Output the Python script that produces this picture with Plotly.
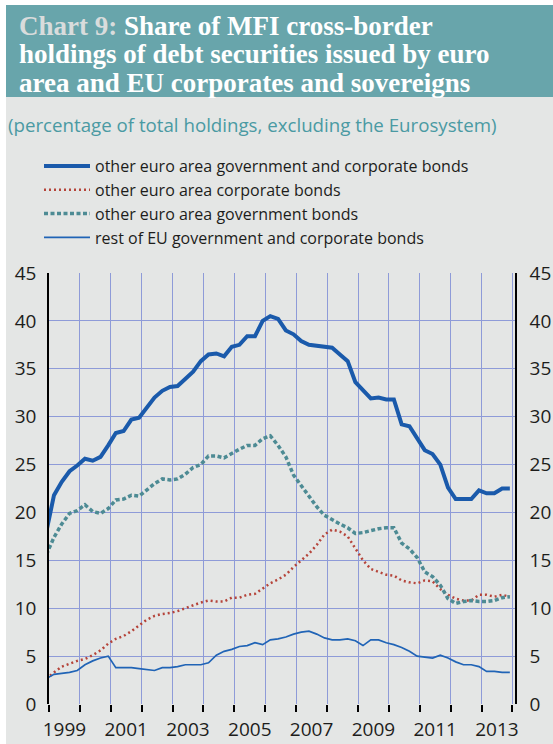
import pandas as pd
import plotly.graph_objects as go

# quarterly observations, Dec 1998 (clipped at the axis) to Dec 2013
quarters = pd.date_range("1998-12-01", "2013-12-01", freq="3MS")

euro_area_total = [
    18.0, 21.8, 23.2, 24.3, 24.9, 25.6, 25.4, 25.8, 27.0, 28.3,
    28.5, 29.7, 29.9, 31.0, 32.0, 32.7, 33.1, 33.2, 34.0, 34.7,
    35.8, 36.5, 36.6, 36.3, 37.3, 37.5, 38.4, 38.4, 40.0, 40.5,
    40.2, 39.0, 38.6, 37.9, 37.5, 37.4, 37.2, 37.2, 36.5, 35.8,
    33.6, 32.7, 31.9, 32.0, 31.8, 31.8, 29.2, 29.0, 27.8, 26.5,
    26.1, 25.0, 22.6, 21.4, 21.4, 21.4, 22.3, 22.0, 22.0, 22.5, 22.5,
]
euro_area_corporate = [
    2.6, 3.3, 3.9, 4.2, 4.5, 4.7, 5.1, 5.6, 6.3, 6.8,
    7.1, 7.6, 8.2, 8.8, 9.2, 9.4, 9.5, 9.7, 10.0, 10.3,
    10.6, 10.8, 10.7, 10.7, 11.1, 11.1, 11.4, 11.5, 12.1, 12.6,
    13.0, 13.5, 14.3, 15.0, 15.7, 16.6, 17.7, 18.2, 18.0, 17.5,
    16.3, 15.0, 14.1, 13.8, 13.5, 13.4, 12.9, 12.7, 12.6, 12.9,
    12.8, 12.0, 11.4, 11.0, 10.8, 10.8, 11.4, 11.4, 11.2, 11.4, 11.2,
]
euro_area_government = [
    15.6, 17.4, 18.8, 19.9, 20.2, 20.8, 20.1, 19.9, 20.4, 21.3,
    21.4, 21.8, 21.7, 22.4, 23.0, 23.5, 23.4, 23.5, 24.0, 24.7,
    25.0, 25.9, 25.9, 25.7, 26.2, 26.6, 27.0, 27.0, 27.7, 28.0,
    27.0, 25.8, 23.9, 22.8, 21.7, 20.6, 19.7, 19.2, 18.8, 18.4,
    17.8, 17.9, 18.1, 18.3, 18.4, 18.4, 16.8, 16.2, 15.3, 13.8,
    13.3, 12.4, 11.0, 10.5, 10.7, 10.8, 10.7, 10.7, 10.8, 11.1, 11.2,
]
rest_of_eu = [
    2.65, 3.1, 3.2, 3.3, 3.5, 4.1, 4.5, 4.8, 5.0, 3.8,
    3.8, 3.8, 3.7, 3.6, 3.5, 3.8, 3.8, 3.9, 4.1, 4.1,
    4.1, 4.3, 5.1, 5.5, 5.7, 6.0, 6.1, 6.4, 6.2, 6.7,
    6.8, 7.0, 7.3, 7.5, 7.6, 7.3, 6.9, 6.7, 6.7, 6.8,
    6.6, 6.1, 6.7, 6.7, 6.4, 6.2, 5.9, 5.5, 5.0, 4.9,
    4.8, 5.1, 4.8, 4.4, 4.1, 4.1, 3.9, 3.4, 3.4, 3.3, 3.3,
]

year_labels = ["1999", "2001", "2003", "2005", "2007", "2009", "2011", "2013"]
label_dates = [f"{y}-07-02" for y in year_labels]
y_ticks = list(range(0, 50, 5))

series_names = [
    "other euro area government and corporate bonds",
    "other euro area corporate bonds",
    "other euro area government bonds",
    "rest of EU government and corporate bonds",
]

TITLE_LINES = [
    "<span style='color:#d9dcdc'>Chart 9:</span> Share of MFI cross-border",
    "holdings of debt securities issued by euro",
    "area and EU corporates and sovereigns",
]
SUBTITLE = "(percentage of total holdings, excluding the Eurosystem)"

##########
# Layout #
##########

W, H = 553, 744
L, R, T, B = 49, 38, 273, 40
PW, PH = W - L - R, H - T - B

BG = "#e4e6e5"
TEAL = "#68a5ab"
GRID = "#8e9bd8"
SANS = "Open Sans"


def px(x):
    return (x - L) / PW


def py(y):
    return (H - B - y) / PH


fig = go.Figure()

styles = [
    dict(color="#1a5aab", width=4),
    dict(color="#b5443a", width=2.5, dash="2px,3px"),
    dict(color="#4d8b94", width=3.5, dash="4px,2.5px"),
    dict(color="#2064b6", width=1.7),
]
values = [euro_area_total, euro_area_corporate, euro_area_government, rest_of_eu]

for name, vals, style in zip(series_names, values, styles):
    fig.add_trace(go.Scatter(x=quarters, y=vals, name=name, mode="lines", line=style))

# invisible copy on the right axis so it gets drawn
fig.add_trace(go.Scatter(x=quarters, y=rest_of_eu, yaxis="y2", mode="lines",
                         line=dict(width=0), showlegend=False, hoverinfo="skip"))

fig.update_layout(
    width=W,
    height=H,
    margin=dict(l=L, r=R, t=T, b=B, autoexpand=False),
    paper_bgcolor="white",
    plot_bgcolor=BG,
    font=dict(family=SANS, color="#1d1d1b"),
    showlegend=True,
    legend=dict(
        x=px(39), y=py(149), xanchor="left", yanchor="top",
        bgcolor="rgba(0,0,0,0)", font=dict(size=16, family=SANS, color="#1d1d1b"),
        itemwidth=46, tracegroupgap=0,
    ),
    xaxis=dict(
        type="date",
        range=["1999-01-01", "2014-01-31"],
        tickmode="array",
        tickvals=label_dates,
        ticktext=year_labels,
        ticks="",
        ticklabelstandoff=12,
        showgrid=False,
        zeroline=False,
        showline=False,
        tickfont=dict(size=19),
        minor=dict(
            tickmode="linear", tick0="1999-01-01", dtick="M12",
            showgrid=True, gridcolor=GRID, gridwidth=1,
            ticks="outside", ticklen=7, tickcolor="black", tickwidth=1.5,
        ),
    ),
    yaxis=dict(
        range=[0, 45],
        tickvals=y_ticks,
        showgrid=True,
        gridcolor=GRID,
        gridwidth=1,
        zeroline=False,
        showline=True,
        linecolor="black",
        linewidth=1.5,
        ticks="",
        ticklabelstandoff=7,
        tickfont=dict(size=19),
    ),
    yaxis2=dict(
        range=[0, 45],
        tickvals=y_ticks,
        overlaying="y",
        side="right",
        showgrid=False,
        zeroline=False,
        showline=True,
        linecolor="black",
        linewidth=1.5,
        ticks="",
        ticklabelstandoff=9,
        tickfont=dict(size=19),
    ),
)

# background panels
fig.add_shape(type="rect", xref="paper", yref="paper", layer="below",
              x0=px(6), x1=px(W), y0=py(H), y1=py(97),
              fillcolor=BG, line_width=0)
fig.add_shape(type="rect", xref="paper", yref="paper", layer="below",
              x0=px(6), x1=px(W), y0=py(97), y1=py(5),
              fillcolor=TEAL, line_width=0)

# title
for y, line in zip([26, 54.5, 83], TITLE_LINES):
    fig.add_annotation(
        xref="paper", yref="paper", x=px(17), y=py(y),
        xanchor="left", yanchor="middle", showarrow=False,
        text=f"<b>{line}</b>",
        font=dict(family="Liberation Serif", size=27, color="white"),
    )

fig.add_annotation(
    xref="paper", yref="paper", x=px(6), y=py(124),
    xanchor="left", yanchor="middle", showarrow=False,
    text=SUBTITLE,
    font=dict(family=SANS, size=18.7, color="#4a9aa3"),
)

fig.write_html("out.html", config={"displayModeBar": False},
               post_script="document.body.style.margin='0';")
